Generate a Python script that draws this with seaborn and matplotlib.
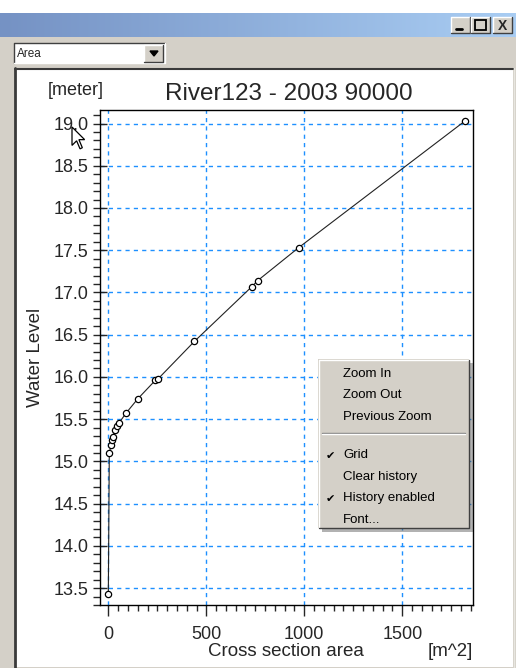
import numpy as np
import pandas as pd
import seaborn as sns
from matplotlib import pyplot as plt
from matplotlib.patches import Rectangle, Polygon
from matplotlib.colors import LinearSegmentedColormap
from matplotlib.ticker import MultipleLocator, FormatStrFormatter

# cross section area [m^2] vs water level [meter]
area = [0, 5, 15, 19, 22, 36, 46, 53, 90, 150, 240, 251, 439, 733, 762, 971, 1820]
level = [13.43, 15.10, 15.20, 15.25, 15.29, 15.37, 15.42, 15.45, 15.57, 15.74,
         15.96, 15.97, 16.42, 17.07, 17.14, 17.53, 19.03]
x_ticks = [0, 500, 1000, 1500]
menu_items = ["Zoom In", "Zoom Out", "Previous Zoom", None,
              "Grid", "Clear history", "History enabled", "Font..."]
menu_checked = ["Grid", "History enabled"]

df = pd.DataFrame({"area": area, "level": level})

sns.set_style("white")
plt.rcParams['font.family'] = ['Liberation Sans', 'DejaVu Sans']

W, H = 516, 668
fig = plt.figure(figsize=(W / 100, H / 100), dpi=100)
fig.patch.set_facecolor("white")

GRAY = "#d4d0c8"

# window chrome drawn in pixel coordinates
bg = fig.add_axes([0, 0, 1, 1], zorder=0)
bg.add_patch(Rectangle((0, 37), W, H - 37, color=GRAY, lw=0))
grad = LinearSegmentedColormap.from_list("tb", ["#7592c4", "#a9cdf3"])
bg.imshow(np.linspace(0, 1, 256)[None, :], cmap=grad, aspect="auto",
          extent=(0, W, 37, 13))
bg.set_xlim(0, W)
bg.set_ylim(H, 0)
bg.axis("off")


def button(ax, x, y, w, h):
    ax.add_patch(Rectangle((x, y), w, h, facecolor=GRAY, edgecolor="none"))
    ax.plot([x, x, x + w], [y + h, y, y], color="white", lw=1)
    ax.plot([x, x + w, x + w], [y + h, y + h, y], color="#404040", lw=1)


for bx in [451, 471, 493]:
    button(bg, bx, 17, 19, 16)
bg.plot([456, 462], [29, 29], color="black", lw=2)
bg.add_patch(Rectangle((475, 20), 11, 10, fill=False, edgecolor="black", lw=1.3))
bg.text(502.5, 25.5, "X", ha="center", va="center", fontsize=10, fontweight="bold")

# combo box
bg.add_patch(Rectangle((14, 43), 151, 20, facecolor="white", edgecolor="none"))
bg.plot([14, 14, 165], [63, 43, 43], color="#404040", lw=1)
bg.plot([14, 165, 165], [63, 63, 43], color="white", lw=1)
button(bg, 144, 45, 19, 17)
bg.add_patch(Polygon([[150, 51], [158, 51], [154, 56]], color="black"))
bg.text(17, 54, "Area", ha="left", va="center", fontsize=8.5)

# white panel
bg.add_patch(Rectangle((15, 68), 498, 599, facecolor="white", edgecolor="none"))
bg.plot([15, 15], [68, 668], color="#3a3a3a", lw=2)
bg.plot([15, 513], [68.5, 68.5], color="#3a3a3a", lw=1.5)
bg.plot([513.5, 513.5], [68, 668], color="#e8e6e0", lw=1)

# chart
ax = fig.add_axes([99.5 / W, (H - 605) / H, (473 - 99.5) / W, (605 - 110) / H], zorder=2)
ax.set_facecolor("white")
sns.lineplot(data=df, x="area", y="level", sort=False, estimator=None, ax=ax,
             color="#222222", lw=0.8, marker="o", markersize=4.5,
             markerfacecolor="white", markeredgecolor="black", markeredgewidth=0.9)
ax.set_xlim(-45, 1861)
ax.set_ylim(13.30, 19.16)
ax.set_xticks(x_ticks)
ax.xaxis.set_minor_locator(MultipleLocator(50))
ax.yaxis.set_major_locator(MultipleLocator(0.5))
ax.yaxis.set_minor_locator(MultipleLocator(0.1))
ax.yaxis.set_major_formatter(FormatStrFormatter("%.1f"))
ax.grid(True, which="major", color="#1e90ff", linestyle=(0, (3, 3)), lw=1)
ax.set_axisbelow(True)
for s in ax.spines.values():
    s.set_color("black")
    s.set_linewidth(1)
ax.tick_params(axis="y", which="major", direction="inout", length=10, width=1,
               labelsize=13, pad=3, left=True)
ax.tick_params(axis="y", which="minor", direction="out", length=5, width=1, left=True)
ax.tick_params(axis="x", which="major", direction="out", length=8, width=1,
               labelsize=13, pad=7, bottom=True)
ax.tick_params(axis="x", which="minor", direction="out", length=4, width=1, bottom=True)
ax.set_xlabel("")
ax.set_ylabel("Water Level", fontsize=13.5)
ax.yaxis.set_label_coords(-0.149, 0.5)

fig.text(289 / W, 1 - 100 / H, "River123 - 2003 90000", ha="center", va="baseline",
         fontsize=17.5)
fig.text(48 / W, 1 - 95 / H, "[meter]", ha="left", va="baseline", fontsize=13)
fig.text(286 / W, 1 - 651 / H, "Cross section area", ha="center", va="center",
         fontsize=13.5)
fig.text(473 / W, 1 - 651 / H, "[m^2]", ha="right", va="center", fontsize=13.5)

# context menu and cursor on top
ov = fig.add_axes([0, 0, 1, 1], zorder=10)
ov.set_xlim(0, W)
ov.set_ylim(H, 0)
ov.axis("off")
ov.patch.set_alpha(0)
ov.add_patch(Rectangle((322, 363), 151, 169, facecolor="#555555", alpha=0.45, lw=0))
ov.add_patch(Rectangle((318, 359), 151, 169, facecolor=GRAY, edgecolor="none"))
ov.plot([318.5, 318.5, 469], [528, 359.5, 359.5], color="white", lw=1)
ov.plot([318.5, 468.5, 468.5], [527.5, 527.5, 359.5], color="#404040", lw=1)
y = 374
for item in menu_items:
    if item is None:
        ov.plot([322, 465], [432.5, 432.5], color="#808080", lw=1)
        ov.plot([322, 465], [433.5, 433.5], color="white", lw=1)
        y += 17
        continue
    ov.text(343, y, item, ha="left", va="center", fontsize=9.5, color="black")
    if item in menu_checked:
        ov.text(326, y + 1, "\u2714", ha="left", va="center", fontsize=8,
                family=["DejaVu Sans"], color="black")
    y += 21.3 if y < 430 else 21.7

cur = np.array([[0, 0], [0, 16], [4, 12], [7, 19], [9, 18], [6, 11], [11, 11]]) * 1.15
ov.add_patch(Polygon(cur + [72, 127], closed=True, facecolor="white",
                     edgecolor="black", lw=0.9))

fig.savefig("out.png", dpi=100)
